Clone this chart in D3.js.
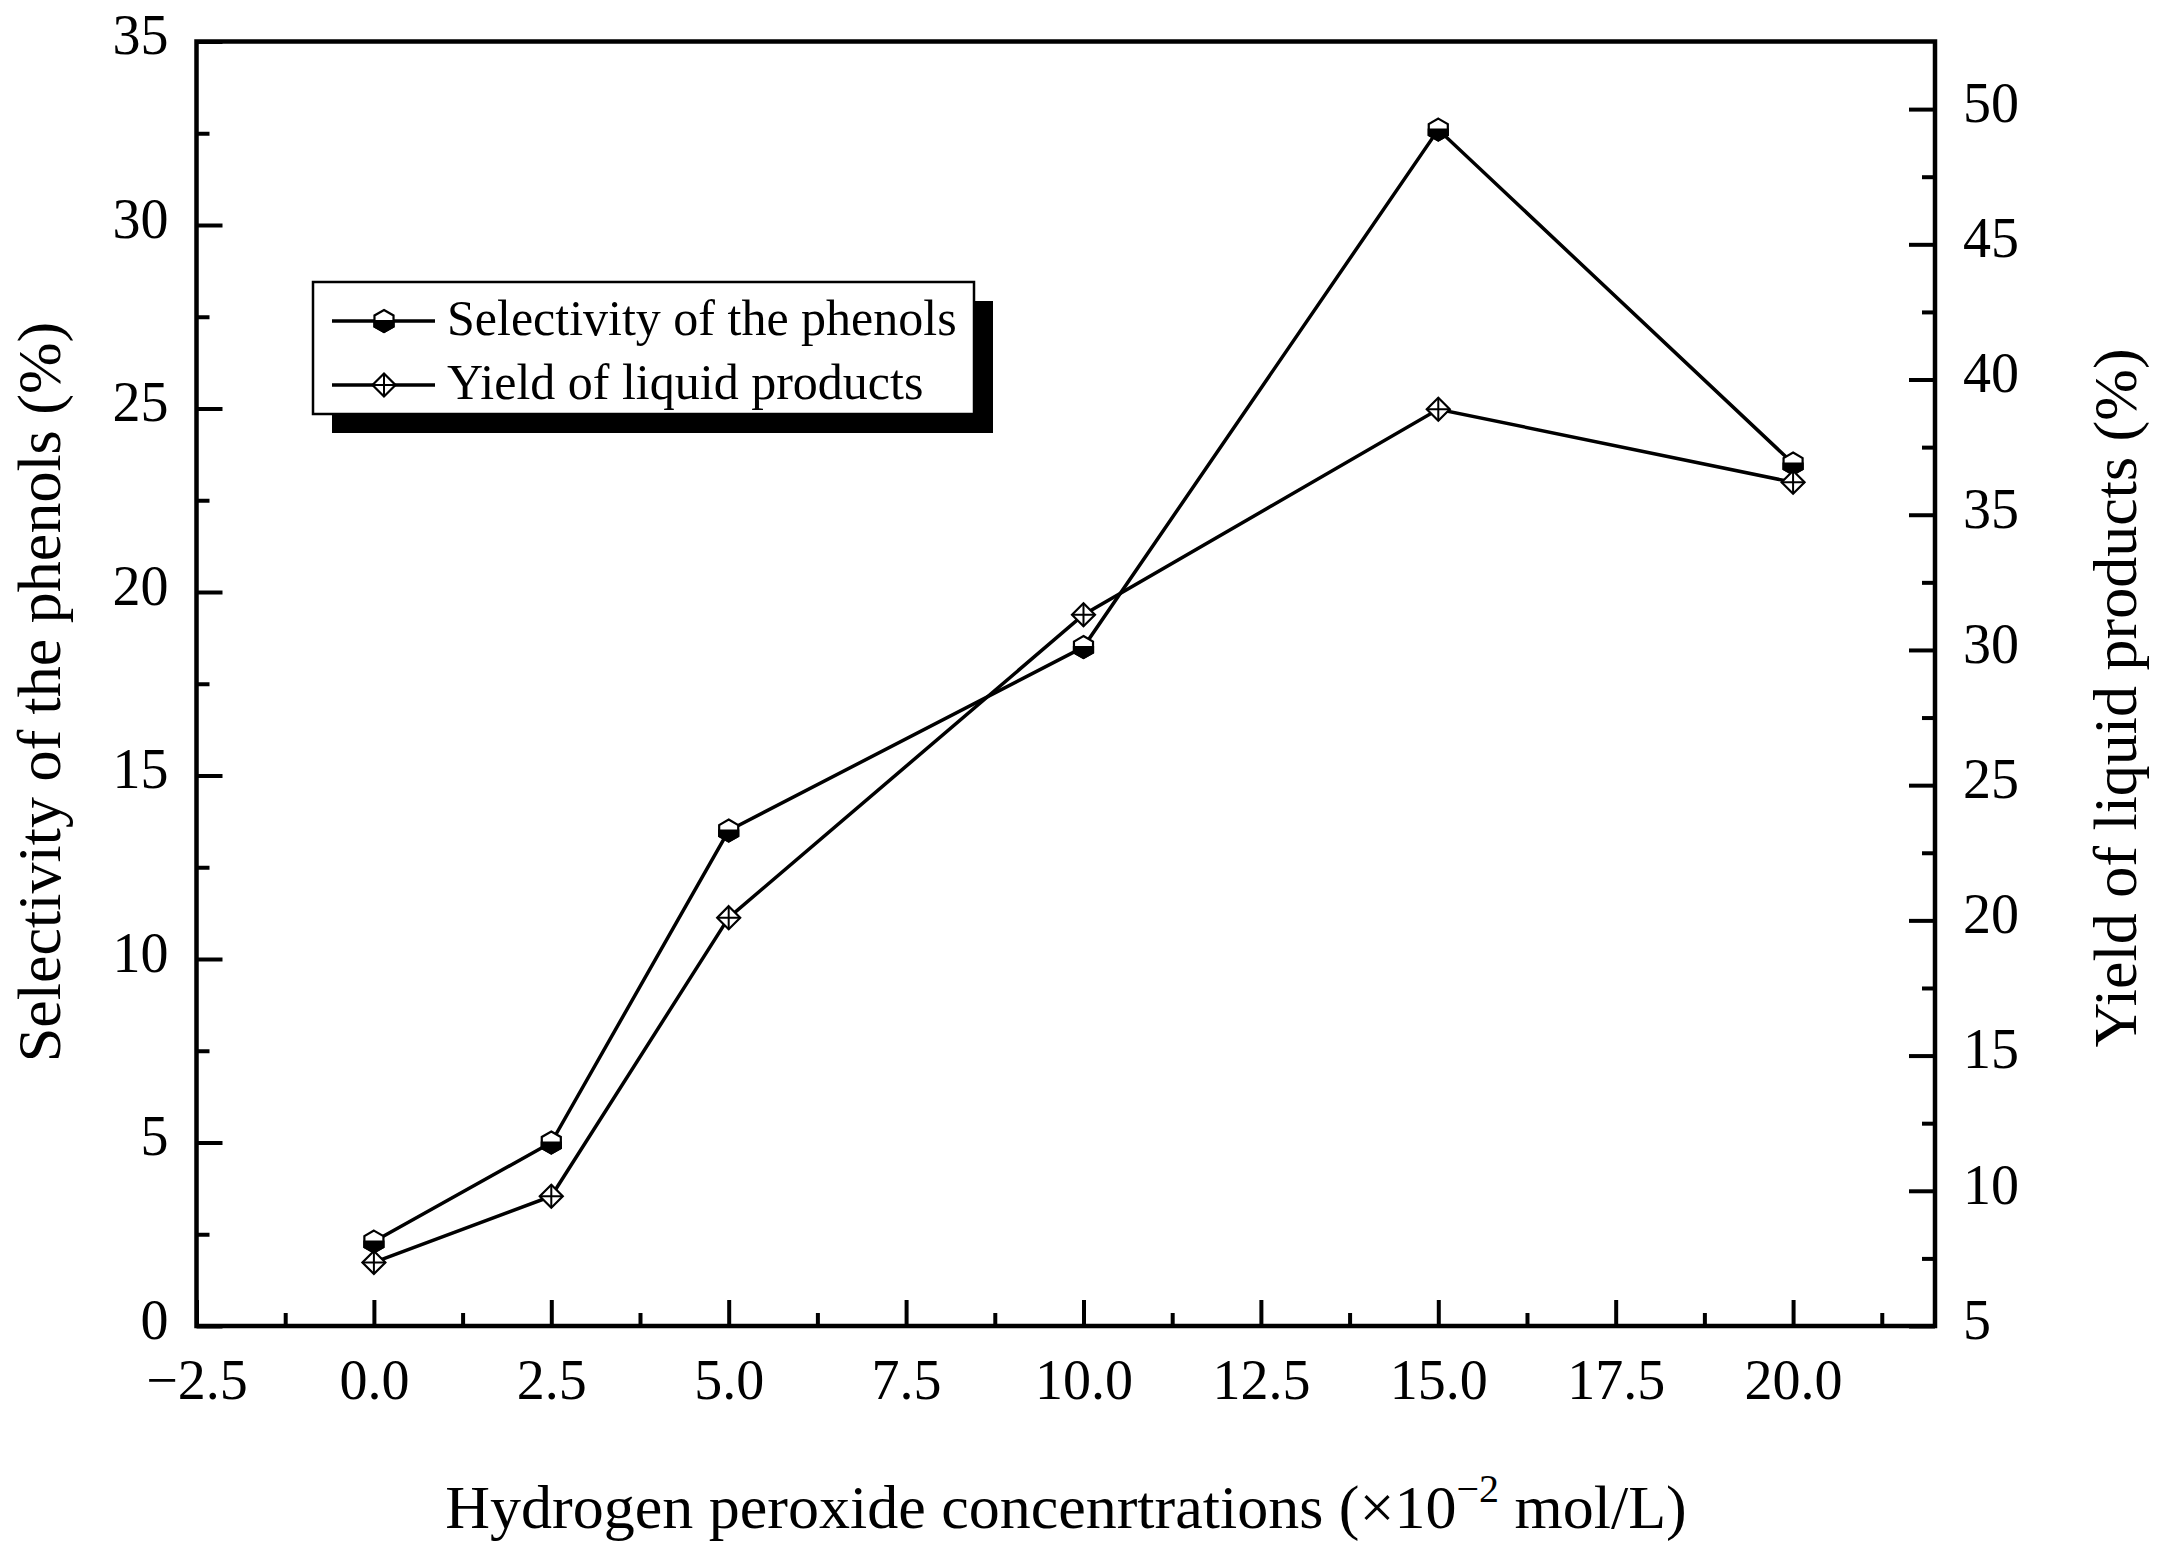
<!DOCTYPE html>
<html>
<head>
<meta charset="utf-8">
<script src="https://cdn.jsdelivr.net/npm/d3@7"></script>
<style>
  body { margin: 0; background: #fff; }
  text { font-family: "Liberation Serif", "Times New Roman", serif; fill: #000; }
</style>
</head>
<body>
<div class="chart"></div>
<script>
// data
const concentrations = [0, 2.5, 5, 10, 15, 20];
const selectivity = [2.3, 5.0, 13.5, 18.5, 32.6, 23.5];
const liquidYield = [7.35, 9.8, 20.1, 31.3, 38.9, 36.2];

const xMajorTicks = [-2.5, 0, 2.5, 5, 7.5, 10, 12.5, 15, 17.5, 20];
const xMinorTicks = [-1.25, 1.25, 3.75, 6.25, 8.75, 11.25, 13.75, 16.25, 18.75, 21.25];
const leftMajorTicks = [0, 5, 10, 15, 20, 25, 30, 35];
const leftMinorTicks = [2.5, 7.5, 12.5, 17.5, 22.5, 27.5, 32.5];
const rightMajorTicks = [5, 10, 15, 20, 25, 30, 35, 40, 45, 50];
const rightMinorTicks = [7.5, 12.5, 17.5, 22.5, 27.5, 32.5, 37.5, 42.5, 47.5];

const legendLabels = ["Selectivity of the phenols", "Yield of liquid products"];

const width = 2163;
const height = 1559;
const margin = { left: 196.5, right: 2163 - 1935, top: 41.5, bottom: 1559 - 1326 };
const plotW = width - margin.left - margin.right;
const plotH = height - margin.top - margin.bottom;

// scales
const x = d3.scaleLinear().domain([-2.5, 22]).range([0, plotW]);
const yLeft = d3.scaleLinear().domain([0, 35]).range([plotH, 0]);
const yRight = d3.scaleLinear().domain([5, 52.5]).range([plotH, 0]);

const svg = d3.select(".chart")
  .append("svg")
    .attr("width", width)
    .attr("height", height);

const g = svg.append("g")
  .attr("transform", `translate(${margin.left},${margin.top})`);

// axes (ticks pointing inward)
function styleAxis(sel) {
  sel.select(".domain").remove();
  sel.selectAll(".tick line").attr("stroke", "#000").attr("stroke-width", 4);
  sel.selectAll(".tick text").attr("font-size", 56).attr("fill", "#000")
    .style("font-family", "'Liberation Serif', 'Times New Roman', serif");
}

g.append("g")
  .attr("transform", `translate(0,${plotH})`)
  .call(d3.axisBottom(x).tickValues(xMajorTicks).tickSize(-26).tickPadding(33).tickFormat(d3.format(".1f")))
  .call(styleAxis);

g.append("g")
  .attr("transform", `translate(0,${plotH})`)
  .call(d3.axisBottom(x).tickValues(xMinorTicks).tickSize(-13).tickFormat(""))
  .call(styleAxis);

g.append("g")
  .call(d3.axisLeft(yLeft).tickValues(leftMajorTicks).tickSize(-26).tickPadding(28).tickFormat(d3.format("d")))
  .call(styleAxis)
  .selectAll(".tick text").attr("dy", "0.22em");

g.append("g")
  .call(d3.axisLeft(yLeft).tickValues(leftMinorTicks).tickSize(-13).tickFormat(""))
  .call(styleAxis);

g.append("g")
  .attr("transform", `translate(${plotW},0)`)
  .call(d3.axisRight(yRight).tickValues(rightMajorTicks).tickSize(-26).tickPadding(28).tickFormat(d3.format("d")))
  .call(styleAxis)
  .selectAll(".tick text").attr("dy", "0.22em");

g.append("g")
  .attr("transform", `translate(${plotW},0)`)
  .call(d3.axisRight(yRight).tickValues(rightMinorTicks).tickSize(-13).tickFormat(""))
  .call(styleAxis);

// frame
g.append("rect")
  .attr("width", plotW)
  .attr("height", plotH)
  .attr("fill", "none")
  .attr("stroke", "#000")
  .attr("stroke-width", 4.5);

// marker shapes
function hexPath(r) {
  const pts = d3.range(6).map((i) => {
    const a = -Math.PI / 2 + i * Math.PI / 3;
    return [r * Math.cos(a), r * Math.sin(a)];
  });
  return "M" + pts.map((p) => p.join(",")).join("L") + "Z";
}
function lowerHexPath(r) {
  const h = r * Math.sqrt(3) / 2;
  return `M${-h},0L${-h},${r / 2}L0,${r}L${h},${r / 2}L${h},0Z`;
}
function drawHalfHex(sel) {
  sel.append("path").attr("d", hexPath(11)).attr("fill", "#fff").attr("stroke", "#000").attr("stroke-width", 2.2);
  sel.append("path").attr("d", lowerHexPath(11)).attr("fill", "#000").attr("stroke", "#000").attr("stroke-width", 2.2);
}
function drawCrossDiamond(sel) {
  const r = 11.5;
  sel.append("path").attr("d", `M0,${-r}L${r},0L0,${r}L${-r},0Z`)
    .attr("fill", "#fff").attr("stroke", "#000").attr("stroke-width", 2.2);
  sel.append("path").attr("d", `M0,${-r}V${r}M${-r},0H${r}`)
    .attr("stroke", "#000").attr("stroke-width", 2);
}

// lines
const phenolData = concentrations.map((c, i) => ({ x: c, y: selectivity[i] }));
const yieldData = concentrations.map((c, i) => ({ x: c, y: liquidYield[i] }));

g.append("path")
  .datum(phenolData)
  .attr("fill", "none").attr("stroke", "#000").attr("stroke-width", 3.5)
  .attr("d", d3.line().x((d) => x(d.x)).y((d) => yLeft(d.y)));

g.append("path")
  .datum(yieldData)
  .attr("fill", "none").attr("stroke", "#000").attr("stroke-width", 3.5)
  .attr("d", d3.line().x((d) => x(d.x)).y((d) => yRight(d.y)));

g.selectAll(".phenol-pt")
  .data(phenolData).enter()
  .append("g")
    .attr("class", "phenol-pt")
    .attr("transform", (d) => `translate(${x(d.x)},${yLeft(d.y)})`)
    .each(function() { drawHalfHex(d3.select(this)); });

g.selectAll(".yield-pt")
  .data(yieldData).enter()
  .append("g")
    .attr("class", "yield-pt")
    .attr("transform", (d) => `translate(${x(d.x)},${yRight(d.y)})`)
    .each(function() { drawCrossDiamond(d3.select(this)); });

// legend
const legend = svg.append("g").attr("transform", "translate(313,282)");
legend.append("rect")
  .attr("x", 19).attr("y", 19).attr("width", 661).attr("height", 132)
  .attr("fill", "#000");
legend.append("rect")
  .attr("width", 661).attr("height", 132)
  .attr("fill", "#fff").attr("stroke", "#000").attr("stroke-width", 2.5);

const rows = legend.selectAll(".legend-row")
  .data(legendLabels).enter()
  .append("g")
    .attr("class", "legend-row")
    .attr("transform", (d, i) => `translate(0,${39 + i * 64})`);

rows.append("line")
  .attr("x1", 19).attr("x2", 122)
  .attr("stroke", "#000").attr("stroke-width", 3.5);

rows.append("g")
  .attr("transform", "translate(71,0)")
  .each(function(d, i) {
    if (i === 0) drawHalfHex(d3.select(this));
    else drawCrossDiamond(d3.select(this));
  });

rows.append("text")
  .attr("x", 134).attr("y", 14)
  .attr("font-size", 50)
  .text((d) => d);

// axis titles
svg.append("text")
  .attr("x", 1066).attr("y", 1528)
  .attr("text-anchor", "middle")
  .attr("font-size", 62)
  .call((t) => {
    t.append("tspan").text("Hydrogen peroxide concenrtrations (\u00d710");
    t.append("tspan").attr("font-size", 40).attr("dy", -26).text("\u22122");
    t.append("tspan").attr("dy", 26).text(" mol/L)");
  });

svg.append("text")
  .attr("transform", "translate(60,692) rotate(-90)")
  .attr("text-anchor", "middle")
  .attr("font-size", 62)
  .text("Selectivity of the phenols (%)");

svg.append("text")
  .attr("transform", "translate(2136,698) rotate(-90)")
  .attr("text-anchor", "middle")
  .attr("font-size", 62)
  .text("Yield of liquid products (%)");
</script>
</body>
</html>
